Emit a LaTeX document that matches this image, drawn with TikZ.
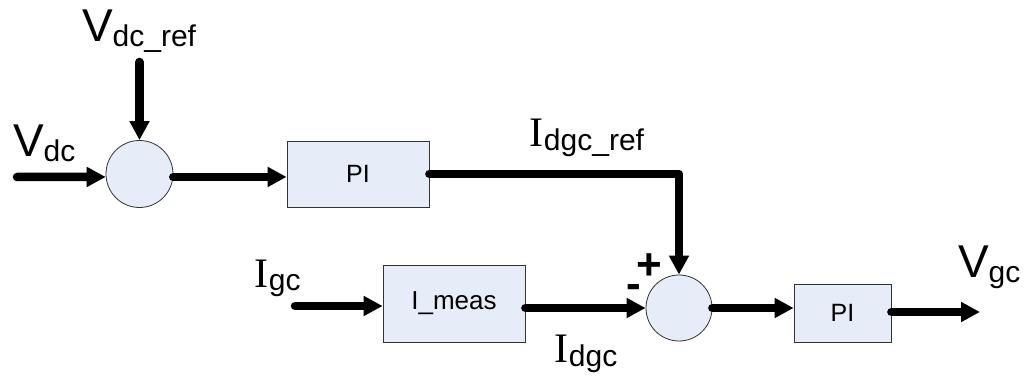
\documentclass[tikz,border=0pt]{standalone}
\usepackage{fontspec}
\setmainfont{Liberation Sans}
\newfontfamily\serifI{Liberation Serif}
\usetikzlibrary{arrows.meta}
\definecolor{blockfill}{RGB}{230,236,248}
\definecolor{blockline}{RGB}{50,50,50}
\newcommand\Vlab[2]{{\fontsize{46}{46}\selectfont #1}\raisebox{-5pt}{\fontsize{30}{30}\selectfont #2}}
\newcommand\Ilab[2]{{\serifI\fontsize{42}{42}\selectfont #1}\kern1pt\raisebox{-4pt}{\fontsize{30}{30}\selectfont #2}}
\tikzset{
  sumnode/.style={circle,draw=blockline,line width=0.8pt,fill=blockfill,minimum size=#1,inner sep=0pt},
  blockbox/.style={rectangle,draw=blockline,line width=0.8pt,fill=blockfill,inner sep=0pt},
  sig/.style={line width=8.5pt,line cap=round,line join=round,-{Triangle[length=19pt,width=19pt]}},
  sigplain/.style={line width=8.5pt,line cap=round,line join=round},
  lab/.style={anchor=base west,inner sep=0pt,outer sep=0pt},
  signlab/.style={anchor=base west,inner sep=0pt,font=\bfseries\fontsize{44}{44}\selectfont}
}
\begin{document}
\begin{tikzpicture}[x=1pt,y=-1pt]
\useasboundingbox (0,0) rectangle (1029,377);
% blocks
\node[sumnode=67pt] (c1) at (139.5,174) {};
\node[blockbox,minimum width=142pt,minimum height=66pt,font=\fontsize{25}{25}\selectfont] (pi1) at (358,174) {PI};
\node[blockbox,minimum width=142pt,minimum height=77pt,font=\fontsize{26}{26}\selectfont] (imeas) at (454,303.5) {I\_meas};
\node[sumnode=66pt] (c2) at (679,308) {};
\node[blockbox,minimum width=97pt,minimum height=58pt,font=\fontsize{25}{25}\selectfont] (pi2) at (842.5,313) {PI};
% free ends
\coordinate (vrefin) at (139.5,62);
\coordinate (vdcin) at (17,177);
\coordinate (igcin) at (295,306);
\coordinate (vgcout) at (980,312);
% connectors
\draw[sig] (vrefin) -- (c1.north);
\draw[sig] (vdcin) -- (c1.185);
\draw[sig] (c1.-5) -- (c1.-5 -| pi1.west);
\draw[sig] (pi1.east) -| (c2.north);
\draw[sig] (igcin) -- (igcin -| imeas.west);
\draw[sig] (imeas.east |- c2.west) -- (c2.west);
\draw[sig] (c2.east) -- (c2.east -| pi2.west);
\draw[sig] (pi2.east |- vgcout) -- (vgcout);
% labels
\node[lab] (lvref) at (82,42) {\Vlab{V}{dc\_ref}};
\node[lab] (lvdc) at (13,157) {\Vlab{V}{dc}};
\node[lab] (lidref) at (529,147) {\Ilab{I}{dgc\_ref}};
\node[lab] (ligc) at (254,287) {\Ilab{I}{gc}};
\node[lab] (lidgc) at (554,362) {\Ilab{I}{dgc}};
\node[lab] (lvgc) at (958,277) {\Vlab{V}{gc}};
\node[signlab] (plus) at (636,279) {+};
\node[signlab] (minus) at (626,298) {-};
\end{tikzpicture}
\end{document}
